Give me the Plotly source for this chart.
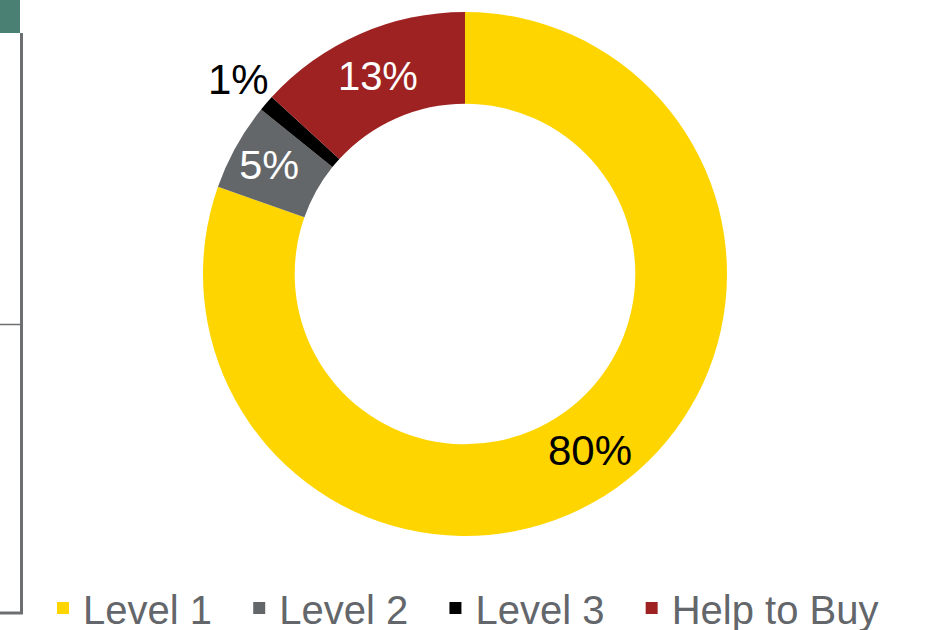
import math
import plotly.graph_objects as go

categories = ["Level 1", "Level 2", "Level 3", "Help to Buy"]
values = [80.4, 5.4, 1.0, 13.2]
label_text = ["80%", "5%", "1%", "13%"]
colors = ["#FFD500", "#646769", "#000000", "#9E2221"]
text_colors = ["#000000", "#FFFFFF", "#000000", "#FFFFFF"]

W, H = 948, 630
cx, cy, r = 465, 274, 262
hole = 0.65
FONT = "Liberation Sans, Arial, sans-serif"

# legend labels padded so the entries are spaced like the original
legend_labels = [c + "\u00a0\u00a0" if i < len(categories) - 1 else c for i, c in enumerate(categories)]

# slices 0 (large) and 2 (tiny) get their labels at the slice bisector, computed from the data
annotated = {0: r * (1 + hole) / 2, 2: r * 1.14}
pie_text = [t if i not in annotated else "" for i, t in enumerate(label_text)]
total = sum(values)
annotations = []
cum = 0.0
for i, v in enumerate(values):
    if i in annotated:
        a = math.radians((cum + v / 2) / total * 360)
        rr = annotated[i]
        px = cx + rr * math.sin(a)
        py = cy - rr * math.cos(a)
        annotations.append(dict(
            x=px / W, y=1 - py / H, xref="paper", yref="paper",
            xanchor="center", yanchor="middle",
            text=label_text[i], showarrow=False,
            font=dict(family=FONT, size=42, color=text_colors[i]),
        ))
    cum += v

fig = go.Figure()
fig.add_trace(go.Pie(
    labels=legend_labels,
    values=values,
    text=pie_text,
    textinfo="text",
    textposition="inside",
    insidetextorientation="horizontal",
    textfont=dict(family=FONT, size=42, color=text_colors),
    marker=dict(colors=colors, line=dict(width=0)),
    hole=hole,
    sort=False,
    direction="clockwise",
    rotation=0,
    domain=dict(x=[(cx - r) / W, (cx + r) / W], y=[1 - (cy + r) / H, 1 - (cy - r) / H]),
    showlegend=True,
))

deco = "#6D6E70"
fig.update_layout(
    width=W, height=H,
    margin=dict(l=0, r=0, t=0, b=0, autoexpand=False),
    paper_bgcolor="white",
    plot_bgcolor="white",
    font=dict(family=FONT),
    legend=dict(
        orientation="h",
        x=43 / W, xanchor="left",
        y=1 - 608 / H, yanchor="middle",
        font=dict(size=40, color="#63666A"),
        bgcolor="rgba(0,0,0,0)",
    ),
    annotations=annotations,
    shapes=[
        dict(type="rect", xref="paper", yref="paper", x0=0, x1=20 / W, y0=1 - 33 / H, y1=1,
             fillcolor="#4A7F73", line=dict(width=0), layer="above"),
        dict(type="line", xref="paper", yref="paper", x0=21.5 / W, x1=21.5 / W,
             y0=1 - 613 / H, y1=1 - 33 / H, line=dict(color=deco, width=3)),
        dict(type="line", xref="paper", yref="paper", x0=0, x1=23 / W,
             y0=1 - 613 / H, y1=1 - 613 / H, line=dict(color=deco, width=3)),
        dict(type="line", xref="paper", yref="paper", x0=0, x1=21 / W,
             y0=1 - 324.5 / H, y1=1 - 324.5 / H, line=dict(color=deco, width=1.5)),
    ],
)

fig.write_html("out.html")
